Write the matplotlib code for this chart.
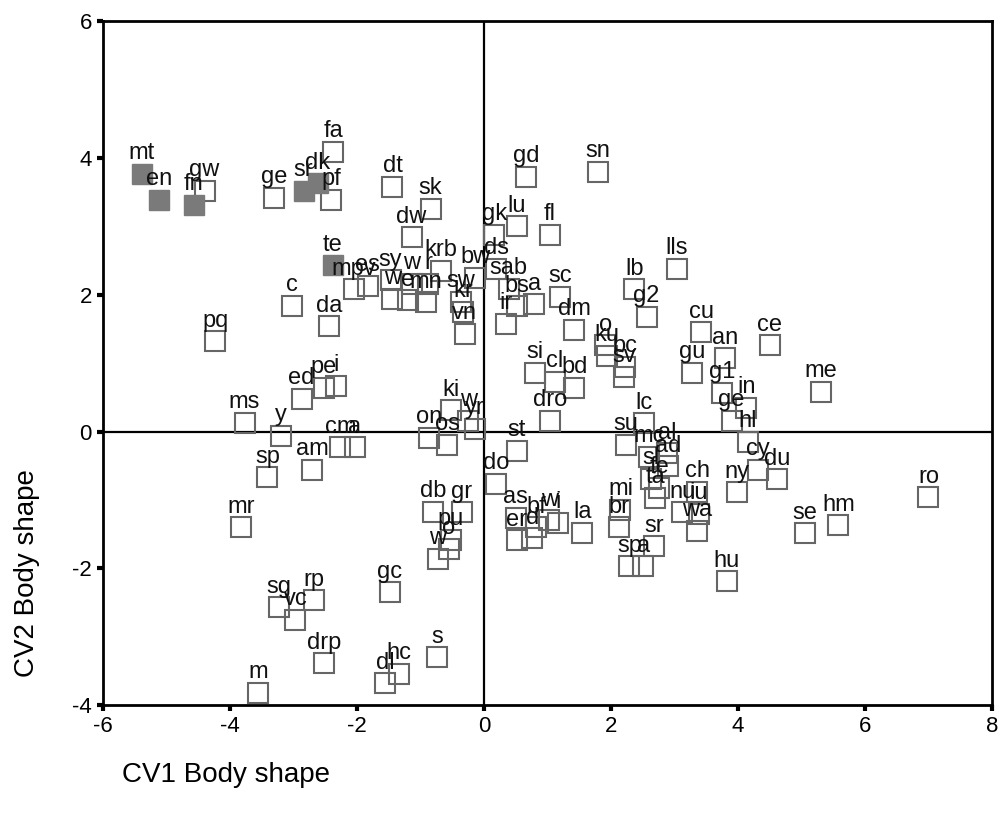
import matplotlib
matplotlib.use("Agg")
import matplotlib.pyplot as plt

plt.rcParams["font.family"] = ["Liberation Sans", "DejaVu Sans"]
plt.rcParams["axes.unicode_minus"] = False

# filled (grey) squares
filled_labels = ["mt", "en", "fn", "sr", "dk", "te"]
filled_cv1 = [-5.39, -5.11, -4.57, -2.84, -2.62, -2.38]
filled_cv2 = [3.77, 3.39, 3.32, 3.52, 3.63, 2.43]

# open squares
open_labels = [
    "gw", "ge", "pf", "fa", "c", "da", "pq", "mpv", "es", "dt", "sk", "dw",
    "sy", "w", "r", "w", "e", "mn", "krb", "bw", "sw", "kr", "vn",
    "gk", "lu", "gd", "sn", "fl", "ds", "sab", "bs", "a", "ir", "sc", "dm",
    "lls", "lb", "g2", "o", "ku", "bc", "sv", "si", "cl", "bd", "dro", "st",
    "do", "lc", "su", "cu", "an", "ce", "gu", "g1", "in", "me", "ge", "hl",
    "cy", "du", "ny", "ch", "ro", "hm", "se", "hu", "sr", "sp", "a", "br",
    "mi", "la", "as", "bf", "w", "i", "er", "d", "mc", "al", "ad", "sl",
    "fe", "ta", "nu", "iu", "wa",
    "ed", "pe", "i", "ms", "y", "cm", "a", "am", "sp", "mr", "ki", "on",
    "os", "w", "yr", "db", "gr", "pu", "w", "o",
    "sg", "vc", "rp", "gc", "drp", "m", "s", "hc", "dl",
]
open_cv1 = [
    -4.40, -3.30, -2.41, -2.37, -3.03, -2.44, -4.23, -2.05, -1.83, -1.44, -0.84, -1.14,
    -1.47, -1.14, -0.88, -1.44, -1.20, -0.91, -0.68, -0.14, -0.36, -0.33, -0.30,
    0.16, 0.52, 0.66, 1.80, 1.04, 0.19, 0.39, 0.52, 0.79, 0.35, 1.20, 1.42,
    3.04, 2.37, 2.56, 1.91, 1.94, 2.22, 2.21, 0.80, 1.12, 1.42, 1.04, 0.52,
    0.19, 2.52, 2.24, 3.42, 3.79, 4.50, 3.28, 3.75, 4.13, 5.30, 3.90, 4.15,
    4.31, 4.62, 3.99, 3.36, 7.00, 5.58, 5.06, 3.82, 2.68, 2.29, 2.51, 2.13,
    2.15, 1.55, 0.50, 0.82, 1.03, 1.17, 0.52, 0.76, 2.60, 2.89, 2.90, 2.63,
    2.76, 2.70, 3.12, 3.38, 3.36,
    -2.87, -2.52, -2.33, -3.77, -3.20, -2.26, -2.03, -2.70, -3.41, -3.82, -0.52, -0.87,
    -0.58, -0.25, -0.14, -0.80, -0.35, -0.52, -0.73, -0.55,
    -3.23, -2.97, -2.68, -1.48, -2.52, -3.56, -0.74, -1.34, -1.56,
]
open_cv2 = [
    3.52, 3.42, 3.39, 4.09, 1.84, 1.54, 1.32, 2.08, 2.13, 3.58, 3.26, 2.84,
    2.21, 2.16, 2.16, 1.94, 1.92, 1.89, 2.35, 2.25, 1.90, 1.75, 1.43,
    2.88, 3.00, 3.73, 3.80, 2.88, 2.38, 2.09, 1.83, 1.86, 1.58, 1.97, 1.49,
    2.38, 2.08, 1.68, 1.26, 1.11, 0.95, 0.80, 0.86, 0.73, 0.64, 0.16, -0.28,
    -0.76, 0.12, -0.19, 1.45, 1.07, 1.26, 0.86, 0.57, 0.35, 0.58, 0.16, -0.15,
    -0.56, -0.70, -0.89, -0.88, -0.96, -1.37, -1.49, -2.19, -1.68, -1.97, -1.97, -1.40,
    -1.14, -1.48, -1.26, -1.40, -1.30, -1.33, -1.59, -1.56, -0.37, -0.32, -0.51, -0.69,
    -0.82, -0.97, -1.18, -1.20, -1.45,
    0.48, 0.64, 0.67, 0.13, -0.06, -0.23, -0.23, -0.56, -0.67, -1.40, 0.31, -0.09,
    -0.19, 0.16, 0.04, -1.17, -1.18, -1.58, -1.86, -1.72,
    -2.57, -2.75, -2.47, -2.35, -3.39, -3.82, -3.30, -3.54, -3.68,
]

x_ticks = [-6, -4, -2, 0, 2, 4, 6, 8]
y_ticks = [-4, -2, 0, 2, 4, 6]

fig = plt.figure(figsize=(9.99, 8.18), dpi=100)
ax = fig.add_axes([0.103, 0.138, 0.890, 0.836])

ax.axhline(0, color="black", linewidth=1.6, zorder=1)
ax.axvline(0, color="black", linewidth=1.6, zorder=1)

ax.plot(open_cv1, open_cv2, linestyle="none", marker="s", markersize=14,
        markerfacecolor="none", markeredgecolor="#666666", markeredgewidth=1.5, zorder=2)
ax.plot(filled_cv1, filled_cv2, linestyle="none", marker="s", markersize=14,
        markerfacecolor="#7a7a7a", markeredgecolor="#7a7a7a", markeredgewidth=1.0, zorder=3)

for lab, x, y in zip(open_labels + filled_labels, open_cv1 + filled_cv1, open_cv2 + filled_cv2):
    ax.annotate(lab, (x, y), xytext=(0, 7), textcoords="offset points",
                ha="center", va="bottom", fontsize=17, color="#111111", zorder=4)

ax.set_xlim(-6, 8)
ax.set_ylim(-4, 6)
ax.set_xticks(x_ticks)
ax.set_yticks(y_ticks)
ax.tick_params(direction="out", length=4, width=3, labelsize=16, pad=4, color="black")
for sp in ax.spines.values():
    sp.set_linewidth(2)
    sp.set_color("black")

fig.text(0.122, 0.053, "CV1 Body shape", fontsize=20, ha="left", va="center")
fig.text(0.027, 0.30, "CV2 Body shape", fontsize=20, rotation=90, ha="center", va="center")

fig.savefig("out.png", dpi=100)
